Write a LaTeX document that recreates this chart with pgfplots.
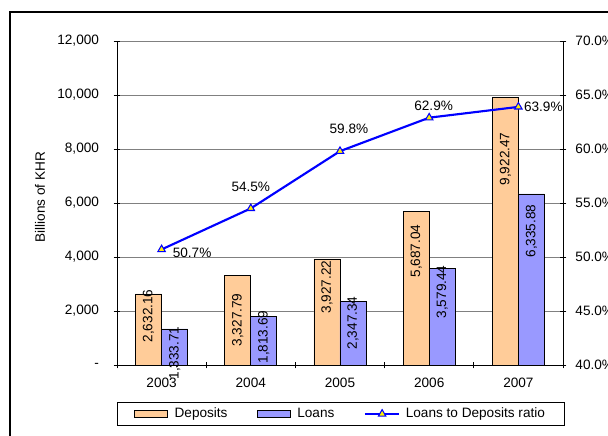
\documentclass[border=0pt]{standalone}
\usepackage{fontspec}
\setmainfont{Liberation Sans}
\usepackage{pgfplots}
\pgfplotsset{compat=1.18}
\definecolor{depo}{RGB}{255,204,153}
\definecolor{loan}{RGB}{153,153,255}
\definecolor{gridc}{RGB}{128,128,128}

\begin{document}
\begin{tikzpicture}[font=\fontsize{10.2}{12}\selectfont]
\useasboundingbox (0,0) rectangle (456pt,327pt);
\fill[white] (0,0) rectangle (456pt,327pt);
% chart area frame (cut off on the right and at the bottom)
\draw[black, line width=0.9pt] (7.5pt,-2pt) -- (7.5pt,318pt) -- (460pt,318pt);

\begin{axis}[
  at={(87.75pt,53.25pt)}, anchor=south west,
  scale only axis, width=334.5pt, height=243pt,
  xmin=-0.5, xmax=4.5, ymin=0, ymax=12000,
  axis x line*=bottom, axis y line*=left,
  axis line style={black, line width=0.7pt, -},
  xtick={-0.5,0.5,...,4.5}, xticklabels={},
  extra x ticks={0,1,2,3,4},
  extra x tick labels={2003,2004,2005,2006,2007},
  extra x tick style={major tick length=0pt},
  xticklabel style={yshift=-6pt},
  ytick={0,2000,...,12000}, scaled y ticks=false,
  yticklabels={-,{2,000},{4,000},{6,000},{8,000},{10,000},{12,000}},
  yticklabel style={xshift=-7.5pt},
  ymajorgrids, grid style={gridc, line width=0.7pt},
  tick align=center, major tick length=5pt,
  tick style={black, line width=0.7pt},
  ylabel={Billions of KHR},
  ylabel style={at={(axis description cs:-0.1726,0.518)}, anchor=center},
  legend columns=3,
  legend style={at={(axis description cs:0.502,-0.151)}, anchor=center,
    draw=black, inner xsep=12.5pt, inner ysep=2pt,
    /tikz/every even column/.append style={column sep=20pt}},
  legend cell align=left,
]
\addplot[ybar, bar width=19.5pt, bar shift=-9.75pt, fill=depo, draw=black, line width=0.6pt,
  legend image code/.code={\draw[fill=depo, draw=black, line width=0.6pt] (0pt,-2.6pt) rectangle (24.75pt,2.6pt); \path (27.75pt,0pt);}]
  coordinates {(0,2632.16) (1,3327.79) (2,3927.22) (3,5687.04) (4,9922.47)};
\addlegendentry{Deposits}
\addplot[ybar, bar width=19.5pt, bar shift=9.75pt, fill=loan, draw=black, line width=0.6pt,
  legend image code/.code={\draw[fill=loan, draw=black, line width=0.6pt] (0pt,-2.6pt) rectangle (24.75pt,2.6pt); \path (27.75pt,0pt);}]
  coordinates {(0,1333.71) (1,1813.69) (2,2347.34) (3,3579.44) (4,6335.88)};
\addlegendentry{Loans}
% value labels inside the bars
\addplot[forget plot, draw=none, nodes near coords, point meta=explicit symbolic,
  nodes near coords style={rotate=90, anchor=center}] table[meta=lab] {
x y lab
-0.146 1815 2,632.16
0.854 1667 3,327.79
1.854 2889 3,927.22
2.854 4222 5,687.04
3.854 7630 9,922.47
0.146 444 1,333.71
1.146 1037 1,813.69
2.146 1556 2,347.34
3.146 2704 3,579.44
4.146 4963 6,335.88
};
\addlegendimage{blue, line width=1.6pt,
  legend image code/.code={
    \draw[blue, line width=1.6pt] (0pt,0pt) -- (26pt,0pt);
    \draw[fill=yellow, draw=blue, line width=0.8pt] (13pt,0pt) +(90:3.2pt) -- +(210:3.2pt) -- +(330:3.2pt) -- cycle;
    \path (28pt,0pt);}}
\addlegendentry{Loans to Deposits ratio}
\end{axis}

\begin{axis}[
  at={(87.75pt,53.25pt)}, anchor=south west,
  scale only axis, width=334.5pt, height=243pt,
  xmin=-0.5, xmax=4.5, ymin=40, ymax=70,
  axis x line=none, axis y line*=right,
  axis line style={black, line width=0.7pt, -},
  ytick={40,45,...,70},
  yticklabels={40.0\%,45.0\%,50.0\%,55.0\%,60.0\%,65.0\%,70.0\%},
  yticklabel style={xshift=3.3pt},
  tick align=center, major tick length=5pt,
  tick style={black, line width=0.7pt},
]
\addplot[blue, line width=1.6pt, mark=triangle*, mark size=3.2pt,
  mark options={fill=yellow, draw=blue, line width=0.8pt}]
  coordinates {(0,50.7) (1,54.5) (2,59.8) (3,62.9) (4,63.9)};
\addplot[draw=none, nodes near coords, point meta=explicit symbolic,
  nodes near coords style={anchor=center}] coordinates {
  (0.342,50.37) [50.7\%]
  (1.0,56.48) [54.5\%]
  (2.1,61.85) [59.8\%]
  (3.05,63.98) [62.9\%]
  (4.28,63.89) [63.9\%]
};
\end{axis}
\end{tikzpicture}
\end{document}
